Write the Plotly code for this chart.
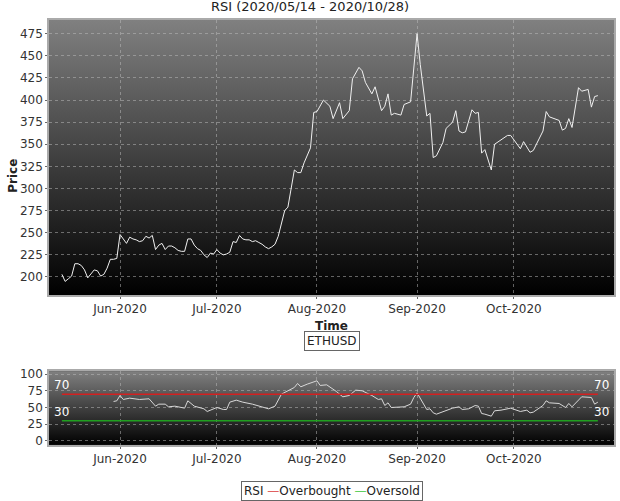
import base64
import plotly.graph_objects as go

price_dates = [
    "2020-05-14", "2020-05-15", "2020-05-16", "2020-05-17", "2020-05-18", "2020-05-19", "2020-05-20",
    "2020-05-21", "2020-05-22", "2020-05-23", "2020-05-24", "2020-05-25", "2020-05-26", "2020-05-27",
    "2020-05-28", "2020-05-29", "2020-05-30", "2020-05-31", "2020-06-01", "2020-06-02", "2020-06-03",
    "2020-06-04", "2020-06-05", "2020-06-06", "2020-06-07", "2020-06-08", "2020-06-09", "2020-06-10",
    "2020-06-11", "2020-06-12", "2020-06-13", "2020-06-14", "2020-06-15", "2020-06-16", "2020-06-17",
    "2020-06-18", "2020-06-19", "2020-06-20", "2020-06-21", "2020-06-22", "2020-06-23", "2020-06-24",
    "2020-06-25", "2020-06-26", "2020-06-27", "2020-06-28", "2020-06-29", "2020-06-30", "2020-07-01",
    "2020-07-02", "2020-07-03", "2020-07-04", "2020-07-05", "2020-07-06", "2020-07-07", "2020-07-08",
    "2020-07-09", "2020-07-10", "2020-07-11", "2020-07-12", "2020-07-13", "2020-07-14", "2020-07-15",
    "2020-07-16", "2020-07-17", "2020-07-18", "2020-07-19", "2020-07-20", "2020-07-21", "2020-07-22",
    "2020-07-23", "2020-07-24", "2020-07-25", "2020-07-26", "2020-07-27", "2020-07-28", "2020-07-29",
    "2020-07-30", "2020-07-31", "2020-08-01", "2020-08-03", "2020-08-05", "2020-08-06", "2020-08-08",
    "2020-08-09", "2020-08-11", "2020-08-12", "2020-08-14", "2020-08-15", "2020-08-16", "2020-08-18",
    "2020-08-19", "2020-08-21", "2020-08-22", "2020-08-23", "2020-08-24", "2020-08-25", "2020-08-27",
    "2020-08-28", "2020-08-30", "2020-09-01", "2020-09-02", "2020-09-04", "2020-09-05", "2020-09-06",
    "2020-09-07", "2020-09-09", "2020-09-10", "2020-09-12", "2020-09-13", "2020-09-14", "2020-09-15",
    "2020-09-16", "2020-09-18", "2020-09-19", "2020-09-20", "2020-09-21", "2020-09-22", "2020-09-24",
    "2020-09-25", "2020-09-27", "2020-09-29", "2020-09-30", "2020-10-01", "2020-10-03", "2020-10-04",
    "2020-10-06", "2020-10-07", "2020-10-10", "2020-10-11", "2020-10-12", "2020-10-15", "2020-10-16",
    "2020-10-17", "2020-10-18", "2020-10-19", "2020-10-21", "2020-10-22", "2020-10-24", "2020-10-25",
    "2020-10-26", "2020-10-27",
]
price_values = [
    203, 195, 198, 201, 215, 215, 213, 208, 199, 203, 208, 207, 201, 203,
    210, 220, 220, 221, 248, 243, 238, 245, 243, 242, 240, 241, 246, 244,
    247, 231, 236, 238, 231, 235, 235, 233, 230, 229, 229, 243, 243, 236,
    232, 230, 225, 222, 227, 226, 231, 227, 225, 226, 228, 240, 239, 247,
    243, 242, 242, 240, 241, 239, 237, 234, 232, 234, 237, 246, 262, 275,
    279, 300, 321, 318, 318, 329, 337, 346, 386, 387, 400, 393, 379, 397,
    379, 388, 424, 437, 433, 420, 407, 415, 388, 393, 407, 383, 385, 383,
    395, 398, 475, 440, 382, 385, 335, 337, 352, 368, 375, 388, 365, 363,
    364, 389, 385, 386, 340, 344, 321, 350, 355, 360, 360, 355, 345, 353,
    341, 343, 365, 387, 381, 377, 366, 368, 379, 369, 414, 410, 412, 392,
    404, 405,
]

rsi_dates = [
    "2020-05-30", "2020-05-31", "2020-06-01", "2020-06-02", "2020-06-04", "2020-06-07", "2020-06-10",
    "2020-06-12", "2020-06-13", "2020-06-15", "2020-06-16", "2020-06-18", "2020-06-21", "2020-06-22",
    "2020-06-24", "2020-06-27", "2020-06-28", "2020-07-01", "2020-07-03", "2020-07-04", "2020-07-05",
    "2020-07-07", "2020-07-09", "2020-07-12", "2020-07-17", "2020-07-19", "2020-07-21", "2020-07-23",
    "2020-07-25", "2020-07-26", "2020-07-27", "2020-07-29", "2020-08-01", "2020-08-02", "2020-08-04",
    "2020-08-07", "2020-08-09", "2020-08-11", "2020-08-13", "2020-08-15", "2020-08-18", "2020-08-20",
    "2020-08-21", "2020-08-22", "2020-08-23", "2020-08-24", "2020-08-28", "2020-08-30", "2020-08-31",
    "2020-09-01", "2020-09-02", "2020-09-04", "2020-09-05", "2020-09-06", "2020-09-07", "2020-09-09",
    "2020-09-12", "2020-09-14", "2020-09-15", "2020-09-17", "2020-09-19", "2020-09-20", "2020-09-21",
    "2020-09-22", "2020-09-24", "2020-09-25", "2020-09-27", "2020-09-30", "2020-10-01", "2020-10-03",
    "2020-10-05", "2020-10-06", "2020-10-07", "2020-10-10", "2020-10-11", "2020-10-12", "2020-10-15",
    "2020-10-17", "2020-10-18", "2020-10-19", "2020-10-22", "2020-10-25", "2020-10-26", "2020-10-27",
]
rsi_values = [
    59, 60, 68, 62, 64, 62, 63, 52, 55, 55, 51, 52, 49, 60,
    52, 48, 44, 50, 47, 47, 58, 61, 58, 55, 48, 52, 70, 75,
    80, 86, 81, 85, 90, 83, 84, 74, 66, 68, 76, 75, 68, 62,
    63, 53, 57, 50, 51, 55, 65, 72, 63, 47, 48, 42, 40, 44,
    49, 51, 47, 48, 53, 52, 41, 40, 37, 45, 46, 49, 47, 44,
    46, 42, 43, 53, 60, 57, 56, 50, 56, 51, 66, 65, 55, 58,
]

band_dates = ["2020-05-14", "2020-10-27"]
overbought = [70, 70]
oversold = [30, 30]

x_range = ["2020-05-10", "2020-11-01"]
x_ticks = ["2020-06-01", "2020-07-01", "2020-08-01", "2020-09-01", "2020-10-01"]
x_ticktext = ["Jun-2020", "Jul-2020", "Aug-2020", "Sep-2020", "Oct-2020"]

svg = ('<svg xmlns="http://www.w3.org/2000/svg" width="10" height="100" preserveAspectRatio="none">'
       '<defs><linearGradient id="g" x1="0" y1="0" x2="0" y2="1">'
       '<stop offset="0" stop-color="#808080"/><stop offset="1" stop-color="#000000"/>'
       '</linearGradient></defs><rect width="10" height="100" fill="url(#g)"/></svg>')
bg = "data:image/svg+xml;base64," + base64.b64encode(svg.encode()).decode()

fig = go.Figure()
fig.add_trace(go.Scatter(x=price_dates, y=price_values, mode="lines",
                         line=dict(color="#f0f0f0", width=1), xaxis="x", yaxis="y"))
fig.add_trace(go.Scatter(x=rsi_dates, y=rsi_values, mode="lines",
                         line=dict(color="#d8d8d8", width=1), xaxis="x2", yaxis="y2"))
fig.add_trace(go.Scatter(x=band_dates, y=overbought, mode="lines",
                         line=dict(color="#d42020", width=1.5), xaxis="x2", yaxis="y2"))
fig.add_trace(go.Scatter(x=band_dates, y=oversold, mode="lines",
                         line=dict(color="#20a020", width=1.5), xaxis="x2", yaxis="y2"))

grid = dict(showgrid=True, gridcolor="rgba(190,190,190,0.5)", griddash="dot", gridwidth=1,
            showline=True, linecolor="#aaa", linewidth=1.5, mirror=True, zeroline=False,
            automargin=False, ticks="outside", ticklen=2, tickcolor="#666",
            tickfont=dict(size=12, color="#333"))

fig.update_layout(
    width=620, height=501,
    margin=dict(l=49, r=6, t=20, b=2),
    paper_bgcolor="white", plot_bgcolor="black",
    font=dict(family="DejaVu Sans", color="#222"),
    showlegend=False,
    title=dict(text="RSI (2020/05/14 - 2020/10/28)", x=0.5, xanchor="center", y=0.996,
               yanchor="top", font=dict(size=13)),
    xaxis=dict(grid, domain=[0, 1], range=x_range, tickvals=x_ticks, ticktext=x_ticktext,
               anchor="y"),
    yaxis=dict(grid, domain=[0.426, 1], range=[179.7, 490.5], tickvals=list(range(200, 476, 25)),
               anchor="x"),
    xaxis2=dict(grid, domain=[0, 1], range=x_range, tickvals=x_ticks, ticktext=x_ticktext,
                anchor="y2"),
    yaxis2=dict(grid, domain=[0.113, 0.267], range=[-6, 104.5], tickvals=[0, 25, 50, 75, 100],
                anchor="x2"),
    images=[
        dict(source=bg, xref="x domain", yref="y domain", x=0, y=1, sizex=1, sizey=1,
             sizing="stretch", layer="below"),
        dict(source=bg, xref="x2 domain", yref="y2 domain", x=0, y=1, sizex=1, sizey=1,
             sizing="stretch", layer="below"),
    ],
    annotations=[
        dict(text="<b>Time</b>", xref="paper", yref="paper", x=0.5, y=0.362, showarrow=False,
             font=dict(size=12)),
        dict(text="<b>Price</b>", xref="paper", yref="paper", x=-0.08, y=0.714, showarrow=False,
             textangle=-90, font=dict(size=12)),
        dict(text="ETHUSD", xref="paper", yref="paper", x=0.5, y=0.308, showarrow=False,
             bordercolor="#666", borderwidth=1, borderpad=2, font=dict(size=12)),
        dict(text="RSI <span style='color:#e06060'>—</span>Overbought "
                  "<span style='color:#60d060'>—</span>Oversold",
             xref="paper", yref="paper", x=0.5, y=-0.004, showarrow=False,
             bordercolor="#666", borderwidth=1, borderpad=2, font=dict(size=12)),
        dict(text="70", xref="x2 domain", yref="y2", x=0.005, y=70, yanchor="bottom",
             xanchor="left", showarrow=False, font=dict(size=12, color="white")),
        dict(text="70", xref="x2 domain", yref="y2", x=0.995, y=70, yanchor="bottom",
             xanchor="right", showarrow=False, font=dict(size=12, color="white")),
        dict(text="30", xref="x2 domain", yref="y2", x=0.005, y=30, yanchor="bottom",
             xanchor="left", showarrow=False, font=dict(size=12, color="white")),
        dict(text="30", xref="x2 domain", yref="y2", x=0.995, y=30, yanchor="bottom",
             xanchor="right", showarrow=False, font=dict(size=12, color="white")),
    ],
)

fig.write_html("out.html", config={"displayModeBar": False},
               post_script="document.body.style.margin='0';")
